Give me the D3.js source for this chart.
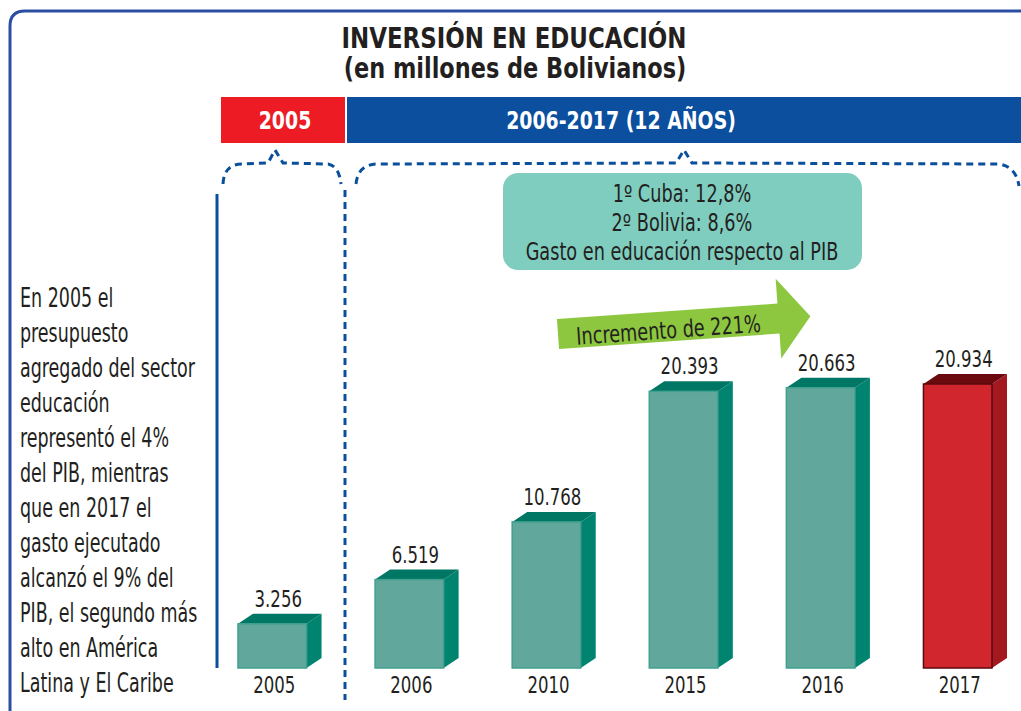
<!DOCTYPE html>
<html>
<head>
<meta charset="utf-8">
<script src="https://cdn.jsdelivr.net/npm/d3@7"></script>
<style>
  body { margin: 0; background: #fff; }
  svg { display: block; }
  text { font-family: "DejaVu Sans Condensed", "Liberation Sans Narrow", sans-serif; fill: #231f20; }
</style>
</head>
<body>
<svg id="chart" width="1021" height="711"></svg>
<script>
// datos
var years = ["2005", "2006", "2010", "2015", "2016", "2017"];
var inversion = [3256, 6519, 10768, 20393, 20663, 20934];
var labels = ["3.256", "6.519", "10.768", "20.393", "20.663", "20.934"];
var periods = ["2005", "2006-2017 (12 AÑOS)"];
var boxLines = ["1º Cuba: 12,8%", "2º Bolivia: 8,6%", "Gasto en educación respecto al PIB"];
var arrowText = "Incremento de 221%";
var sideText = ["En 2005 el", "presupuesto", "agregado del sector", "educación",
                "representó el 4%", "del PIB, mientras", "que en 2017 el",
                "gasto ejecutado", "alcanzó el 9% del", "PIB, el segundo más",
                "alto en América", "Latina y El Caribe"];

var svg = d3.select("#chart");
var blue = "#2b4ea3", dark = "#0a4f9c";

// texto estrecho (la fuente original es condensada)
function narrow(sel, fx, fy, s) {
  sel.attr("transform", function (d, i) {
    var px = typeof fx == "function" ? fx(d, i) : fx;
    var py = typeof fy == "function" ? fy(d, i) : fy;
    return "translate(" + px + "," + py + ") scale(" + s + ",1)";
  });
  return sel;
}

// marco
svg.append("path")
  .attr("d", "M10,1100 L10,26 Q10,11 25,11 L1100,11")
  .attr("fill", "none").attr("stroke", blue).attr("stroke-width", 3);

// titulo
narrow(svg.append("text"), 514, 48, 0.91).attr("text-anchor", "middle")
  .style("font-size", "28px").style("font-weight", "bold").text("INVERSIÓN EN EDUCACIÓN");
narrow(svg.append("text"), 515, 78, 0.89).attr("text-anchor", "middle")
  .style("font-size", "28px").style("font-weight", "bold").text("(en millones de Bolivianos)");

// cabeceras
var heads = [{x: 221, w: 124, c: "#ed1c24", tx: 285}, {x: 347, w: 700, c: "#0b4f9e", tx: 621}];
heads.forEach(function (h, i) {
  svg.append("rect").attr("x", h.x).attr("y", 97).attr("width", h.w).attr("height", 46).attr("fill", h.c);
  narrow(svg.append("text"), h.tx, 129, 0.84).attr("text-anchor", "middle")
    .style("font-size", "25px").style("font-weight", "bold").style("fill", "#fff").text(periods[i]);
});

// llaves punteadas
function brace(d) {
  svg.append("path").attr("d", d)
    .attr("fill", "none").attr("stroke", dark).attr("stroke-width", 3)
    .attr("stroke-dasharray", "7,5");
}
brace("M223,184 Q224,164 242,164 L268,163 L275,150 L283,163 L328,164 Q339,166 341,184");
brace("M356,184 Q358,164 378,164 L676,163 L684,150 L692,163 L998,164 Q1016,166 1019,186");
brace("M345,190 L345,700");

// linea azul izquierda
svg.append("line").attr("x1", 217).attr("x2", 217).attr("y1", 194).attr("y2", 668)
  .attr("stroke", dark).attr("stroke-width", 3);

// texto lateral
narrow(svg.append("g").selectAll("text").data(sideText).enter().append("text"),
       20, function (d, i) { return 307 + i * 35; }, 0.72)
  .style("font-size", "27px").text(function (d) { return d; });

// caja verde
svg.append("rect").attr("x", 503).attr("y", 173).attr("width", 359).attr("height", 97)
  .attr("rx", 15).attr("fill", "#7fcdbf");
narrow(svg.append("g").selectAll("text").data(boxLines).enter().append("text"),
       682, function (d, i) { return 202 + i * 29; }, 0.82)
  .attr("text-anchor", "middle").style("font-size", "24px").text(function (d) { return d; });

// flecha
var arrow = svg.append("g").attr("transform", "translate(558,334) rotate(-4)");
arrow.append("path")
  .attr("d", "M0,-15 L221,-15 L221,-40 L253,0 L221,40 L221,15 L0,15 Z")
  .attr("fill", "#8dc63f");
narrow(arrow.append("text"), 18, 12, 0.82).style("font-size", "24px").text(arrowText);

// barras
var base = 668, dx = 15, dy = 10;
var x = d3.scaleBand().domain(years).range([238, 992]).paddingInner(0.5);
var y = d3.scaleLinear().domain([0, d3.max(inversion)]).range([base, 384]);

var data = years.map(function (d, i) { return {year: d, value: inversion[i], label: labels[i]}; });

var bar = svg.append("g").selectAll("g").data(data).enter().append("g");

function col(d, part) {
  var red = d.year == "2017";
  if (part == "front") return red ? "#d1262d" : "#62a79c";
  if (part == "top") return red ? "#6a0a0e" : "#007665";
  return red ? "#a3191f" : "#008470";
}

bar.append("path")
  .attr("d", function (d) {
    var x0 = x(d.year) + x.bandwidth(), t = y(d.value);
    return "M" + x0 + "," + t + "L" + (x0 + dx) + "," + (t - dy) + "L" + (x0 + dx) + "," + (base - dy) + "L" + x0 + "," + base + "Z";
  })
  .attr("fill", function (d) { return col(d, "side"); });
bar.append("path")
  .attr("d", function (d) {
    var x0 = x(d.year), x1 = x0 + x.bandwidth(), t = y(d.value);
    return "M" + x0 + "," + t + "L" + (x0 + dx) + "," + (t - dy) + "L" + (x1 + dx) + "," + (t - dy) + "L" + x1 + "," + t + "Z";
  })
  .attr("fill", function (d) { return col(d, "top"); });
bar.append("rect")
  .attr("x", function (d) { return x(d.year); })
  .attr("y", function (d) { return y(d.value); })
  .attr("width", x.bandwidth())
  .attr("height", function (d) { return base - y(d.value); })
  .attr("fill", function (d) { return col(d, "front"); })
  .attr("stroke", function (d) { return d.year == "2017" ? "#5a0a0c" : "#3fa08f"; })
  .attr("stroke-width", 1.5);

narrow(bar.append("text"),
       function (d) { return x(d.year) + x.bandwidth() / 2 + 6; },
       function (d) { return y(d.value) - dy - 7; }, 0.8)
  .attr("text-anchor", "middle").style("font-size", "23px")
  .text(function (d) { return d.label; });
narrow(bar.append("text"),
       function (d) { return x(d.year) + x.bandwidth() / 2 + 2; }, 693, 0.8)
  .attr("text-anchor", "middle").style("font-size", "23px")
  .text(function (d) { return d.year; });
</script>
</body>
</html>
